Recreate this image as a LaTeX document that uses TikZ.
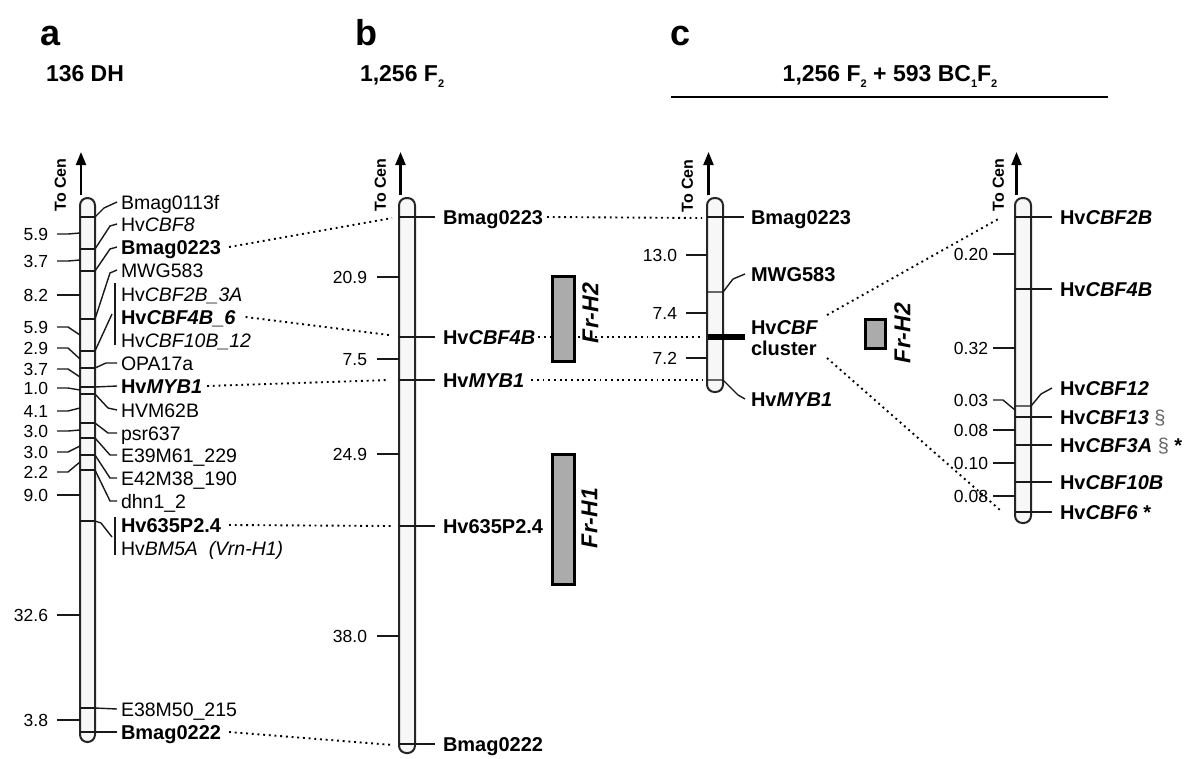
\documentclass[tikz,border=0pt]{standalone}
\usepackage{fontspec}
\setmainfont{Liberation Sans}
\usetikzlibrary{arrows.meta}
\newcommand{\sbs}[1]{\raisebox{-0.3em}{\fontsize{11}{11}\selectfont #1}}
\begin{document}
\begin{tikzpicture}[x=1pt,y=-1pt,
  every node/.style={inner sep=0pt, outer sep=0pt},
  lab/.style={font=\fontsize{19.5}{20}\selectfont, anchor=west, text height=14pt, text depth=0pt},
  blab/.style={lab, font=\fontsize{20}{22}\selectfont\bfseries, text height=14.3pt},
  num/.style={font=\fontsize{17.5}{18}\selectfont, anchor=east, text height=12.6pt, text depth=0pt},
  tocen/.style={font=\fontsize{16}{16}\selectfont\bfseries, rotate=90, text height=11.5pt, text depth=0pt},
  tube/.style={draw=black!85, line width=2pt, fill=black!3, rounded corners=7.4pt},
  mk/.style={line width=1.4pt, black!90},
  dots/.style={line width=1.9pt, dash pattern=on 1.9pt off 3.8pt},
  cen/.style={-{Triangle[length=13pt,width=10pt]}, line width=2.2pt},
  frbox/.style={draw, line width=3pt, fill=black!33},
  frl/.style={font=\fontsize{23}{23}\selectfont\bfseries\itshape, rotate=90, text height=16.5pt, text depth=0pt},
  head/.style={font=\fontsize{36}{36}\selectfont\bfseries, anchor=base west},
  sub/.style={font=\fontsize{23}{24}\selectfont\bfseries, anchor=base west}
]
\useasboundingbox (0,0) rectangle (1190,758);

% ---------------- headers
\node[head] (ha) at (40,45) {a};
\node[head] (hb) at (355,45) {b};
\node[head] (hc) at (670,45) {c};
\node[sub] (sa) at (46,81) {136 DH};
\node[sub] (sb) at (360,81) {1,256 F\sbs{2}};
\node[sub, anchor=base] (sc) at (890,81) {1,256 F\sbs{2} + 593 BC\sbs{1}F\sbs{2}};
\draw[line width=2.8pt] (671,97) -- (1108,97);

% ---------------- chromosome a
\node[tube, minimum width=15pt, minimum height=544pt] (ta) at (87.5,470) {};
\draw[cen] (81,195) -- (81,152);
\node[tocen] (tca) at (60,185) {To Cen};
\foreach \y in {217,249,271,319,351,368,387,394,423,438,455,470,521,708,732}
  \draw[mk] (80,\y) -- (95,\y);

\node[lab] (a1) at (121,202) {Bmag0113f};
\node[lab] (a2) at (121,224) {Hv\textit{CBF8}};
\node[blab] (a3) at (121,247) {Bmag0223};
\node[lab] (a4) at (121,270) {MWG583};
\node[lab] (a5) at (121,294) {Hv\textit{CBF2B\_3A}};
\node[blab] (a6) at (121,317) {Hv\textit{CBF4B\_6}};
\node[lab] (a7) at (121,340) {Hv\textit{CBF10B\_12}};
\node[lab] (a8) at (121,363) {OPA17a};
\node[blab] (a9) at (121,386) {Hv\textit{MYB1}};
\node[lab] (a10) at (121,410) {HVM62B};
\node[lab] (a11) at (121,433) {psr637};
\node[lab] (a12) at (121,455) {E39M61\_229};
\node[lab] (a13) at (121,478) {E42M38\_190};
\node[lab] (a14) at (121,501) {dhn1\_2};
\node[blab] (a15) at (121,525) {Hv635P2.4};
\node[lab] (a16) at (121,548) {Hv\textit{BM5A}\ \ \textit{(Vrn-H1)}};
\node[lab] (a17) at (121,709) {E38M50\_215};
\node[blab] (a18) at (121,732) {Bmag0222};

\draw[mk] (95,217) -- (104,208) -- ([xshift=-4pt]a1.west);
\draw[mk] (95,249) -- (110,226) -- ([xshift=-4pt]a2.west);
\draw[mk] (95,271) -- (110,249) -- ([xshift=-4pt]a3.west);
\draw[mk] (95,319) -- (110,273) -- ([xshift=-4pt]a4.west);
\draw[mk] (115,283) -- (115,345);
\draw[mk] (95,351) -- (112,314);
\draw[mk] (95,368) -- (106,363) -- ([xshift=-4pt]a8.west);
\draw[mk] (95,387) -- ([xshift=-4pt]a9.west);
\draw[mk] (95,394) -- (108,408) -- ([xshift=-4pt]a10.west);
\draw[mk] (95,423) -- (108,433) -- ([xshift=-4pt]a11.west);
\draw[mk] (95,438) -- (110,455) -- ([xshift=-4pt]a12.west);
\draw[mk] (95,455) -- (110,478) -- ([xshift=-4pt]a13.west);
\draw[mk] (95,470) -- (110,501) -- ([xshift=-4pt]a14.west);
\draw[mk] (115,517) -- (115,555);
\draw[mk] (95,521) -- (101,523) -- (112,537);
\draw[mk] (95,708) -- ([xshift=-4pt]a17.west);
\draw[mk] (95,732) -- ([xshift=-4pt]a18.west);

\foreach \n/\ly/\my/\t in {1/234/233/5.9, 2/261/260/3.7, 3/295/295/8.2, 4/327/335/5.9,
    5/348/359/2.9, 6/369/377/3.7, 7/388/390/1.0, 8/411/408/4.1, 9/431/430/3.0,
    10/452/446/3.0, 11/472/462/2.2, 12/495/495/9.0, 13/615/615/32.6, 14/720/720/3.8}{
  \node[num] (da\n) at (48,\ly) {\t};
  \draw[mk] ([xshift=9pt]da\n.east) -- ([xshift=20pt]da\n.east) -- (80,\my);
}

% ---------------- chromosome b
\node[tube, minimum width=16pt, minimum height=555pt] (tb) at (407,475.5) {};
\draw[cen] (400.5,195) -- (400.5,152);
\node[tocen] (tcb) at (380,185) {To Cen};
\node[blab] (b1) at (443,217) {Bmag0223};
\node[blab] (b2) at (443,337) {Hv\textit{CBF4B}};
\node[blab] (b3) at (443,380) {Hv\textit{MYB1}};
\node[blab] (b4) at (443,526) {Hv635P2.4};
\node[blab] (b5) at (443,744) {Bmag0222};
\foreach \n in {1,...,5}
  \draw[mk] (tb.west |- b\n) -- ([xshift=-8pt]b\n.west);
\foreach \n/\y/\t in {1/277/20.9, 2/359/7.5, 3/454/24.9, 4/636/38.0}{
  \node[num] (db\n) at (367,\y) {\t};
  \draw[mk] ([xshift=10pt]db\n.east) -- (tb.west |- db\n);
}

% ---------------- chromosome c (left)
\node[tube, minimum width=16pt, minimum height=194pt] (tc) at (715,295) {};
\draw[cen] (708.5,195) -- (708.5,152);
\node[tocen] (tcc) at (687,186) {To Cen};
\node[blab] (c1) at (751,217) {Bmag0223};
\node[blab] (c2) at (751,274) {MWG583};
\node[blab] (c3) at (751,327) {Hv\textit{CBF}};
\node[blab] (c4) at (751,348) {cluster};
\node[blab] (c5) at (751,399) {Hv\textit{MYB1}};
\draw[mk] (tc.west |- c1) -- ([xshift=-7pt]c1.west);
\draw[mk] (707,292) -- (723,292) -- (733,279) -- ([xshift=-6pt]c2.west);
\draw[line width=5.5pt] (708,337) -- (745,337);
\draw[mk] (707,380) -- (723,380) -- (738,395) -- ([xshift=-6pt]c5.west);
\foreach \n/\y/\t in {1/255/13.0, 2/313/7.4, 3/358/7.2}{
  \node[num] (dc\n) at (677,\y) {\t};
  \draw[mk] ([xshift=9pt]dc\n.east) -- (tc.west |- dc\n);
}

% ---------------- chromosome c (right)
\node[tube, minimum width=16pt, minimum height=325pt] (td) at (1023,360.5) {};
\draw[cen] (1016.5,195) -- (1016.5,152);
\node[tocen] (tcd) at (998,185) {To Cen};
\node[blab] (e1) at (1060,217) {Hv\textit{CBF2B}};
\node[blab] (e2) at (1060,289) {Hv\textit{CBF4B}};
\node[blab] (e3) at (1060,388) {Hv\textit{CBF12}};
\node[blab] (e4) at (1060,417) {Hv\textit{CBF13} \textcolor{black!60}{\mdseries\upshape\S}};
\node[blab] (e5) at (1060,445) {Hv\textit{CBF3A} \textcolor{black!60}{\mdseries\upshape\S} *};
\node[blab] (e6) at (1060,482) {Hv\textit{CBF10B}};
\node[blab] (e7) at (1060,512) {Hv\textit{CBF6} *};
\foreach \n in {1,2,4,5,6,7}
  \draw[mk] (td.west |- e\n) -- ([xshift=-8pt]e\n.west);
\draw[mk] (1015,406) -- (1031,406) -- (1041,394) -- ([xshift=-8pt]e3.west);
\foreach \n/\y/\my/\t in {1/254/254/0.20, 2/348/348/0.32, 3/400/410/0.03, 4/430/430/0.08, 5/463/463/0.10, 6/496/496/0.08}{
  \node[num] (dd\n) at (988,\y) {\t};
  \draw[mk] ([xshift=5pt]dd\n.east) -- ([xshift=15pt]dd\n.east) -- (1015,\my);
}

% ---------------- dotted connectors
\coordinate (pb1) at (392,218);
\coordinate (pb2) at (389,335);
\coordinate (pb3) at (389,380);
\coordinate (pb4) at (393,526);
\coordinate (pb5) at (393,745);
\draw[dots] ([xshift=8pt]a3.east) -- (pb1);
\draw[dots] ([xshift=10pt]a6.east) -- (pb2);
\draw[dots] ([xshift=5pt]a9.east) -- (pb3);
\draw[dots] ([xshift=8pt]a15.east) -- (pb4);
\draw[dots] ([xshift=8pt]a18.east) -- (pb5);

\coordinate (pc1) at (702,218);
\coordinate (pc2) at (703,337);
\coordinate (pc3) at (703,380);
\draw[dots] ([xshift=4pt]b1.east) -- (pc1);
\draw[dots] ([xshift=3pt]b2.east) -- (pc2);
\draw[dots] ([xshift=7pt]b3.east) -- (pc3);

\coordinate (cu) at (827,315);
\coordinate (cl) at (827,358);
\coordinate (pd1) at (1000,218);
\coordinate (pd2) at (1000,510);
\draw[dots] (cu) -- (pd1);
\draw[dots] (cl) -- (pd2);

% ---------------- Fr boxes
\node[frbox, minimum width=22pt, minimum height=85pt] (fb2) at (563,318.5) {};
\node[frl] (fb2l) at (590,313) {Fr-H2};
\node[frbox, minimum width=22pt, minimum height=130pt] (fb1) at (563,519) {};
\node[frl] (fb1l) at (589,518) {Fr-H1};
\node[frbox, minimum width=20pt, minimum height=29pt] (fc2) at (875.5,333.5) {};
\node[frl] (fc2l) at (902,333) {Fr-H2};
\end{tikzpicture}
\end{document}
